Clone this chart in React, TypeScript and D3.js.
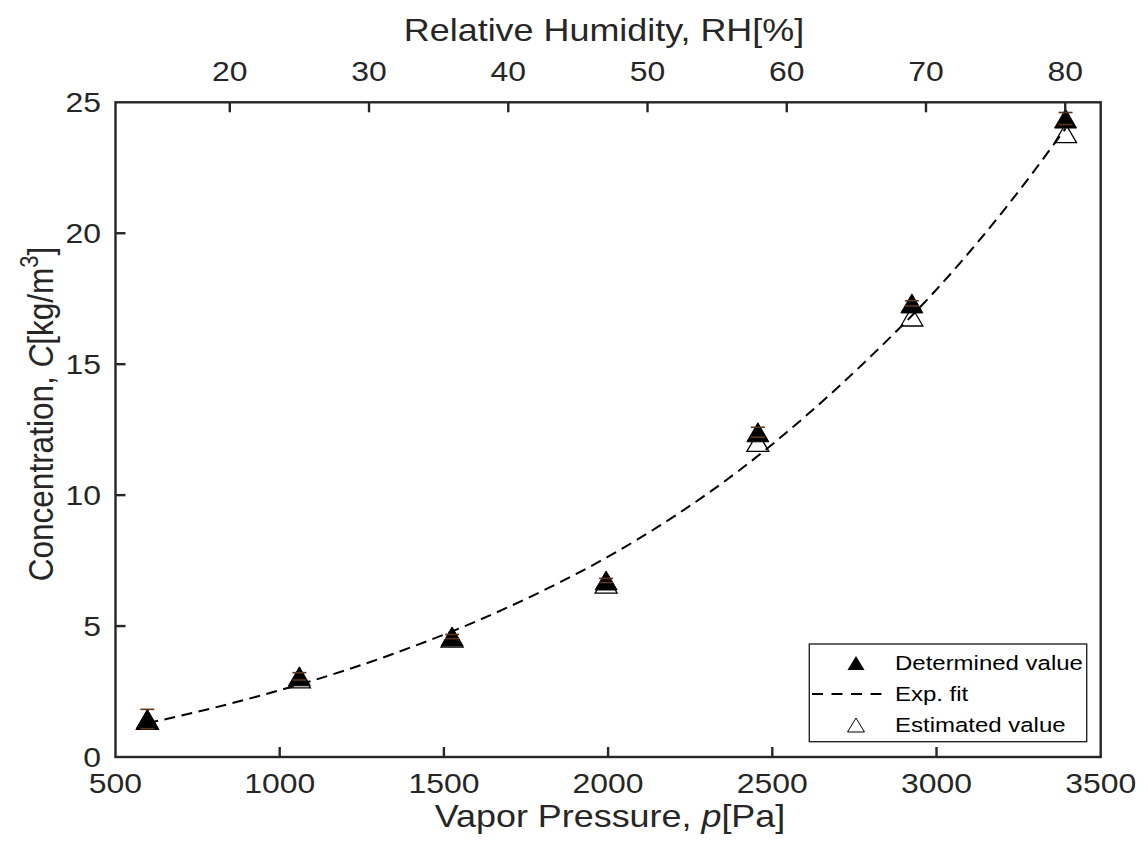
import React from "react";
import * as d3 from "d3";

// ---- data ----
const pressure = [597, 1060, 1525, 1994, 2456, 2925, 3393];
const determined = [1.45, 3.08, 4.6, 6.74, 12.4, 17.32, 24.38];
const errorVals = [0.37, 0.14, 0.08, 0.08, 0.19, 0.1, 0.23];
const estimated = [1.42, 3.0, 4.56, 6.62, 12.03, 16.82, 23.82];

const fitP = [597, 800, 1000, 1200, 1400, 1600, 1800, 2000, 2200, 2400, 2600, 2800, 3000, 3200, 3393];
const fitC = [1.29, 1.88, 2.55, 3.31, 4.19, 5.19, 6.34, 7.65, 9.18, 10.95, 13.0, 15.3, 17.85, 20.8, 24.0];

const xTicks = [500, 1000, 1500, 2000, 2500, 3000, 3500];
const rhTicks = [20, 30, 40, 50, 60, 70, 80];
const yTicks = [0, 5, 10, 15, 20, 25];
const PSAT = 4240; // saturation pressure used for the RH axis

const legendItems = ["Determined value", "Exp. fit", "Estimated value"];

// ---- layout ----
const W = 1148;
const H = 858;
const L = 115.5, R = 1100.7, T = 102.3, B = 757;
const AX = "#262626";
const SX = 1.14; // horizontal stretch of the original figure
const FONT = "'Liberation Sans', Arial, Helvetica, sans-serif";

const x = d3.scaleLinear().domain([500, 3500]).range([L, R]);
const rh = d3.scaleLinear().domain([(500 / PSAT) * 100, (3500 / PSAT) * 100]).range([L, R]);
const y = d3.scaleLinear().domain([0, 25]).range([B, T]);

const TW = 22, TH = 19;
const tri = (w: number, h: number) => `M0,${-h / 2}L${w / 2},${h / 2}L${-w / 2},${h / 2}Z`;

export default function App() {
  const line = d3
    .line<number>()
    .x((_, i) => x(fitP[i]))
    .y((d) => y(d))
    .curve(d3.curveMonotoneX);

  const tickFs = 28;
  return (
    <svg
      width={W}
      height={H}
      style={{ position: "absolute", left: 0, top: 0, background: "#fff" }}
      fontFamily={FONT}
    >
      <rect width={W} height={H} fill="#fff" />
      {/* estimated (open) */}
      {pressure.map((p, i) => (
        <path
          key={"e" + i}
          d={tri(TW, TH)}
          transform={`translate(${x(p)},${y(estimated[i])})`}
          fill="none"
          stroke="#000"
          strokeWidth={1.3}
        />
      ))}
      {/* fit line */}
      <path d={line(fitC) || ""} fill="none" stroke="#000" strokeWidth={2} strokeDasharray="11,6.5" />
      {/* determined (filled) */}
      {pressure.map((p, i) => (
        <path
          key={"d" + i}
          d={tri(TW, TH)}
          transform={`translate(${x(p)},${y(determined[i])})`}
          fill="#000"
          stroke="#000"
          strokeWidth={1}
        />
      ))}
      {/* error bars */}
      {pressure.map((p, i) => {
        const cx = x(p);
        const y1 = y(determined[i] + errorVals[i]);
        const y2 = y(determined[i] - errorVals[i]);
        return (
          <g key={"eb" + i} stroke="#5e3620" strokeWidth={1.6}>
            <line x1={cx} x2={cx} y1={y1} y2={y2} stroke="#000" />
            <line x1={cx - 7} x2={cx + 7} y1={y1} y2={y1} />
            <line x1={cx - 7} x2={cx + 7} y1={y2} y2={y2} />
          </g>
        );
      })}

      {/* axes box */}
      <rect x={L} y={T} width={R - L} height={B - T} fill="none" stroke={AX} strokeWidth={2.4} />
      {/* bottom ticks */}
      {xTicks.map((v) => (
        <g key={"xt" + v}>
          {v > 500 && v < 3500 && <line x1={x(v)} x2={x(v)} y1={B} y2={B - 10} stroke={AX} strokeWidth={2.4} />}
          <text
            transform={`translate(${x(v)},793) scale(${SX},1)`}
            textAnchor="middle"
            fontSize={tickFs}
            fill={AX}
          >
            {v}
          </text>
        </g>
      ))}
      {/* top ticks */}
      {rhTicks.map((v) => (
        <g key={"rt" + v}>
          <line x1={rh(v)} x2={rh(v)} y1={T} y2={T + 10} stroke={AX} strokeWidth={2.4} />
          <text
            transform={`translate(${rh(v)},81) scale(${SX},1)`}
            textAnchor="middle"
            fontSize={tickFs}
            fill={AX}
          >
            {v}
          </text>
        </g>
      ))}
      {/* left ticks */}
      {yTicks.map((v) => (
        <g key={"yt" + v}>
          {v > 0 && v < 25 && <line x1={L} x2={L + 10} y1={y(v)} y2={y(v)} stroke={AX} strokeWidth={2.4} />}
          <text
            transform={`translate(101,${y(v) + 9.5}) scale(${SX},1)`}
            textAnchor="end"
            fontSize={tickFs}
            fill={AX}
          >
            {v}
          </text>
        </g>
      ))}

      {/* axis labels */}
      <text transform={`translate(610,827) scale(${SX},1)`} textAnchor="middle" fontSize={31.5} fill={AX}>
        Vapor Pressure, <tspan fontStyle="italic">p</tspan>[Pa]
      </text>
      <text transform={`translate(604,41) scale(${SX},1)`} textAnchor="middle" fontSize={31.5} fill={AX}>
        Relative Humidity, RH[%]
      </text>
      <text
        transform={`translate(53,414) rotate(-90) scale(1,${SX})`}
        textAnchor="middle"
        fontSize={31.5}
        fill={AX}
      >
        Concentration, <tspan fontStyle="italic">C</tspan>[kg/m
        <tspan fontSize={22} dy={-13}>3</tspan>
        <tspan dy={13}>]</tspan>
      </text>

      {/* legend */}
      <g>
        <rect x={809.3} y={644} width={277.4} height={97.7} fill="#fff" stroke={AX} strokeWidth={1.4} />
        {legendItems.map((label, i) => {
          const cy = 663 + i * 31;
          return (
            <g key={"lg" + i}>
              {i === 0 && <path d={tri(17, 14)} transform={`translate(856,${cy})`} fill="#000" />}
              {i === 1 && (
                <line x1={812} x2={886} y1={cy} y2={cy} stroke="#000" strokeWidth={2} strokeDasharray="11,8.5" />
              )}
              {i === 2 && (
                <path d={tri(17, 14)} transform={`translate(856,${cy})`} fill="none" stroke="#000" strokeWidth={1} />
              )}
              <text transform={`translate(895,${cy + 7}) scale(1.17,1)`} fontSize={20.5} fill="#000">
                {label}
              </text>
            </g>
          );
        })}
      </g>
    </svg>
  );
}
